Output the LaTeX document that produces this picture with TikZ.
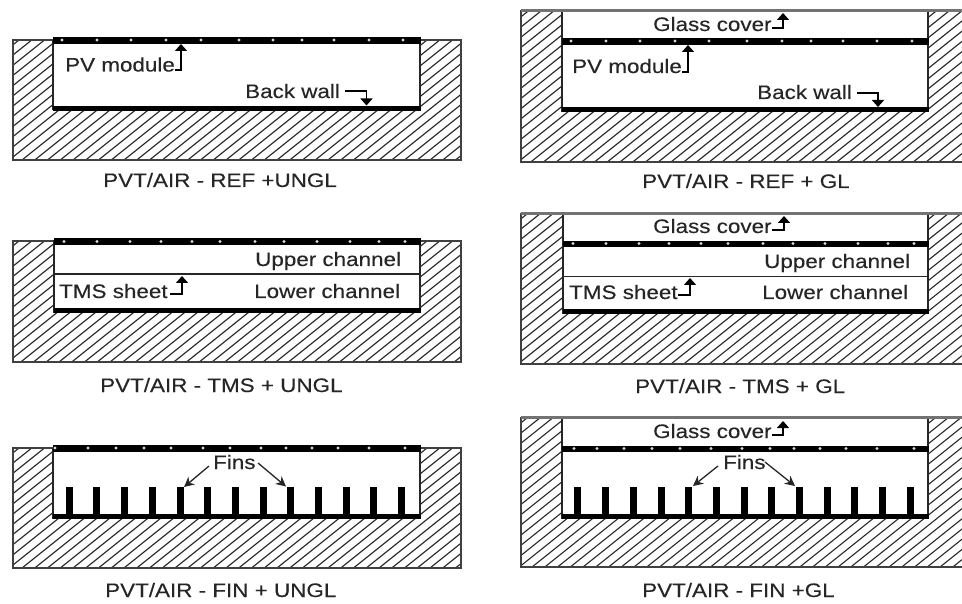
\documentclass[tikz,border=0pt]{standalone}
\usepackage{fontspec}
\usetikzlibrary{arrows.meta}
\newfontfamily\lblfont[FakeStretch=1.15,FakeBold=0.25]{Liberation Sans}
\newcommand{\dotsrow}[2]{% y, list
  \foreach \x in {#2}{\fill[pvdot] (\x,#1) circle (1.7);}
}
\newcommand{\finsrow}[1]{%
  \foreach \x in {#1}{\fill[bar] ({\x-3.5},487) rectangle ({\x+3.5},514);}
}
\tikzset{
  hatchline/.style={draw=black!85,line width=1.1pt},
  outerline/.style={draw=black!75,line width=1.5pt},
  topline/.style={draw=black!55,line width=3pt},
  wallline/.style={draw=black!85,line width=1.5pt},
  bar/.style={fill=black},
  pvdot/.style={fill=white!85!black},
  lab/.style={inner sep=0pt,anchor=base west,text=black!85,font=\lblfont\fontsize{19.5}{21}\selectfont},
  hook/.style={draw=black,line width=1.5pt,-{Triangle[length=7pt,width=12pt]}},
  finarrow/.style={draw=black!85,line width=1.3pt,-{Stealth[length=10pt,width=10pt]}},
  tmsline/.style={draw=black!85,line width=1.8pt}
}
\begin{document}
\begin{tikzpicture}[x=1pt,y=-1pt]
\useasboundingbox (0,0) rectangle (962,604);
\fill[white] (0,0) rectangle (962,604);

% ---------- panel 1: REF UNGL
\begin{scope}
  \clip (13,40) rectangle (461,160);
  \foreach \k in {-5,...,60}{
    \draw[hatchline] (13,{55+10.2*\k}) -- (461,{55+10.2*\k-0.8*448});
  }
\end{scope}
\draw[outerline] (13,40) rectangle (461,160);
\fill[white] (53,37) rectangle (420,108);
\draw[wallline] (53,40) -- (53,110) (420,40) -- (420,110);
\fill[bar] (52.5,37) rectangle (420.5,44);
\fill[bar] (52.5,106) rectangle (420.5,111);
\dotsrow{40}{62,97,131,166,201,239,273,302,334,369,403}
\node[lab] (pv1) at (65,71.5) {PV module};
\node[lab] (bw1) at (245,98) {Back wall};
\coordinate (pv1tip) at (181,44);
\coordinate (bw1tip) at (366.5,105.5);
\coordinate (pv1hook) at (181,70);
\coordinate (bw1hook) at (366.5,91);
\draw[hook] (175,70) -- (pv1hook) -- (pv1tip);
\draw[hook] (345,91) -- (bw1hook) -- (bw1tip);
\node[lab] (cap1) at (103,187) {PVT/AIR - REF +UNGL};

% ---------- panel 2: REF GL
\begin{scope}
  \clip (521,10) rectangle (962,162);
  \foreach \k in {-5,...,70}{
    \draw[hatchline] (521,{27+10.2*\k}) -- (962,{27+10.2*\k-0.8*441});
  }
\end{scope}
\draw[outerline] (962,162) -- (521,162) -- (521,10);
\fill[white] (562,12) rectangle (928,108);
\draw[topline] (521,11) -- (962,11);
\draw[wallline] (562,12) -- (562,112) (928,12) -- (928,112);
\fill[bar] (561.5,38) rectangle (928.5,45);
\fill[bar] (561.5,107) rectangle (928.5,112);
\dotsrow{41}{571,606,640,675,709,747,782,811,843,877,912}
\node[lab] (gc2) at (653,31) {Glass cover};
\node[lab] (pv2) at (572,73) {PV module};
\node[lab] (bw2) at (757,99) {Back wall};
\coordinate (gc2hook) at (783,28);
\coordinate (gc2tip) at (783,13);
\coordinate (pv2hook) at (688,72);
\coordinate (pv2tip) at (688,45);
\coordinate (bw2hook) at (878,93);
\coordinate (bw2tip) at (878,107);
\draw[hook] (772,28) -- (gc2hook) -- (gc2tip);
\draw[hook] (682,72) -- (pv2hook) -- (pv2tip);
\draw[hook] (857,93) -- (bw2hook) -- (bw2tip);
\node[lab] (cap2) at (642,188) {PVT/AIR - REF + GL};

% ---------- panel 3: TMS UNGL
\begin{scope}
  \clip (13,241) rectangle (461,362);
  \foreach \k in {-5,...,60}{
    \draw[hatchline] (13,{256+10.2*\k}) -- (461,{256+10.2*\k-0.8*448});
  }
\end{scope}
\draw[outerline] (13,241) rectangle (461,362);
\fill[white] (54,238) rectangle (420,309);
\draw[wallline] (54,240) -- (54,313) (420,240) -- (420,313);
\fill[bar] (53.5,238) rectangle (420.5,245);
\fill[bar] (53.5,308) rectangle (420.5,313);
\draw[tmsline] (54,274) -- (420,274);
\dotsrow{241.5}{64,97,130,161,192,220,255,284,317,350,379,405}
\node[lab] (up3) at (255,266) {Upper channel};
\node[lab] (lo3) at (254,298) {Lower channel};
\node[lab] (tm3) at (59,298) {TMS sheet};
\coordinate (tm3hook) at (182,294);
\coordinate (tm3tip) at (182,276);
\draw[hook] (170,294) -- (tm3hook) -- (tm3tip);
\node[lab] (cap3) at (100,392) {PVT/AIR - TMS + UNGL};

% ---------- panel 4: TMS GL
\begin{scope}
  \clip (521,213) rectangle (962,364);
  \foreach \k in {-5,...,70}{
    \draw[hatchline] (521,{229+10.2*\k}) -- (962,{229+10.2*\k-0.8*441});
  }
\end{scope}
\draw[outerline] (962,364) -- (521,364) -- (521,213);
\fill[white] (563,214) rectangle (928,310);
\draw[topline] (521,213.5) -- (962,213.5);
\draw[wallline] (563,215) -- (563,314) (928,215) -- (928,314);
\fill[bar] (562.5,241) rectangle (928.5,247);
\fill[bar] (562.5,309) rectangle (928.5,314);
\draw[tmsline] (563,276.5) -- (928,276.5);
\dotsrow{243.5}{573,606,639,669,701,728,763,793,825,858,888,914}
\node[lab] (gc4) at (653,233) {Glass cover};
\node[lab] (up4) at (764,268) {Upper channel};
\node[lab] (lo4) at (762,299) {Lower channel};
\node[lab] (tm4) at (569,299) {TMS sheet};
\coordinate (gc4hook) at (784,230);
\coordinate (gc4tip) at (784,216);
\coordinate (tm4hook) at (690,295);
\coordinate (tm4tip) at (690,278);
\draw[hook] (772,230) -- (gc4hook) -- (gc4tip);
\draw[hook] (678,295) -- (tm4hook) -- (tm4tip);
\node[lab] (cap4) at (635,393) {PVT/AIR - TMS + GL};

% ---------- panel 5: FIN UNGL
\begin{scope}
  \clip (13,448) rectangle (461,568);
  \foreach \k in {-5,...,60}{
    \draw[hatchline] (13,{463+10.2*\k}) -- (461,{463+10.2*\k-0.8*448});
  }
\end{scope}
\draw[outerline] (13,448) rectangle (461,568);
\fill[white] (53,445) rectangle (420,514);
\draw[wallline] (53,448) -- (53,519) (420,448) -- (420,519);
\fill[bar] (52.5,445) rectangle (420.5,452);
\fill[bar] (52.5,514) rectangle (420.5,519);
\finsrow{69,96.7,124.3,152.3,180,207.7,235.3,263.3,290.7,318.3,346,373.7,401.3}
\dotsrow{448}{55,88,116,144,171,203,230,261,286,312,338,369,405}
\node[lab] (fi5) at (213,469) {Fins};
\coordinate (fi5l) at (209,466);
\coordinate (fi5ltip) at (184,487);
\coordinate (fi5r) at (258,463);
\coordinate (fi5rtip) at (286,486.5);
\draw[finarrow] (fi5l) -- (fi5ltip);
\draw[finarrow] (fi5r) -- (fi5rtip);
\node[lab] (cap5) at (105,597) {PVT/AIR - FIN + UNGL};

% ---------- panel 6: FIN GL
\begin{scope}
  \clip (521,417) rectangle (962,567);
  \foreach \k in {-5,...,70}{
    \draw[hatchline] (521,{433+10.2*\k}) -- (962,{433+10.2*\k-0.8*441});
  }
\end{scope}
\draw[outerline] (962,567) -- (521,567) -- (521,417);
\fill[white] (562,418) rectangle (928,514);
\draw[topline] (521,417.5) -- (962,417.5);
\draw[wallline] (562,419) -- (562,519) (928,419) -- (928,519);
\fill[bar] (561.5,446) rectangle (928.5,452);
\fill[bar] (561.5,514) rectangle (928.5,519);
\finsrow{577.7,605.7,633.3,661,688.7,716.3,744,771.7,799.3,827,854.7,882.3,910}
\dotsrow{448.5}{574,597,624,652,680,711,742,770,794,820,846,877,914}
\node[lab] (gc6) at (653,438) {Glass cover};
\node[lab] (fi6) at (723,469) {Fins};
\coordinate (gc6hook) at (783,435);
\coordinate (gc6tip) at (783,421);
\coordinate (fi6l) at (718,466);
\coordinate (fi6ltip) at (693,486);
\coordinate (fi6r) at (765,462);
\coordinate (fi6rtip) at (795,486);
\draw[hook] (772,435) -- (gc6hook) -- (gc6tip);
\draw[finarrow] (fi6l) -- (fi6ltip);
\draw[finarrow] (fi6r) -- (fi6rtip);
\node[lab] (cap6) at (642,597) {PVT/AIR - FIN +GL};
\end{tikzpicture}
\end{document}
